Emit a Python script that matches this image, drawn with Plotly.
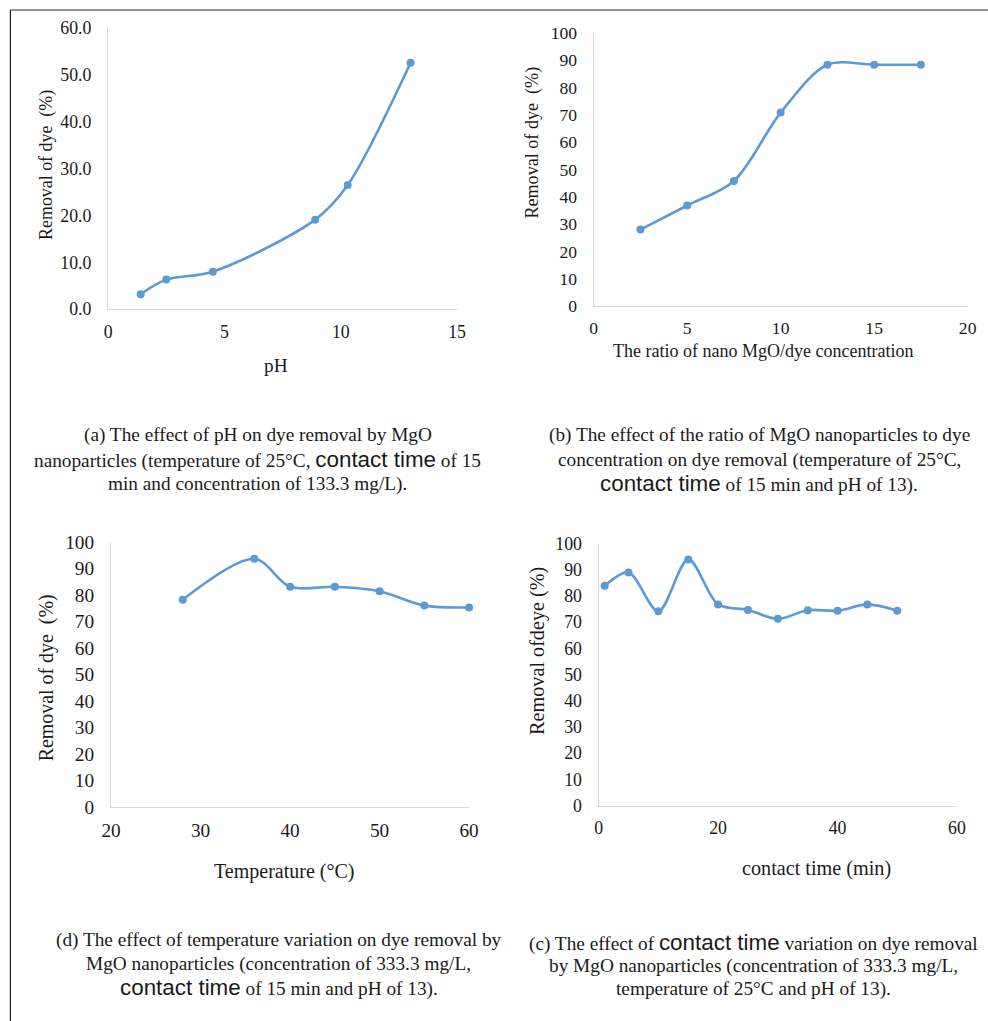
import plotly.graph_objects as go

# ---------------- data ----------------
ph_x = [1.4, 2.5, 4.5, 8.9, 10.3, 13.0]
ph_y = [3.2, 6.3, 8.0, 19.1, 26.5, 52.6]

ratio_x = [2.5, 5, 7.5, 10, 12.5, 15, 17.5]
ratio_y = [28.0, 36.8, 45.8, 70.8, 88.3, 88.3, 88.3]

temp_x = [28, 36, 40, 45, 50, 55, 60]
temp_y = [78.2, 93.7, 83.1, 83.1, 81.4, 76.0, 75.3]

time_x = [1, 5, 10, 15, 20, 25, 30, 35, 40, 45, 50]
time_y = [83.9, 89.0, 74.2, 94.0, 76.8, 74.7, 71.3, 74.6, 74.4, 76.8, 74.4]

W, H = 988, 1021
# capture pipeline shows the page slightly reduced and centred; compensate
S = 0.9826
BX, BY = 8.6, 8.9
BLUE = "#5B9BD5"
SERIF = "Liberation Serif, Times New Roman, serif"
SANS = "Liberation Sans, Arial, sans-serif"
TXT = "#1a1a1a"


def px(x):
    return ((x - BX) / S) / W


def py(y):
    return 1 - ((y - BY) / S) / H


def fs(v):
    return round(v / S, 1)


fig = go.Figure()

panels = [
    ("1", ph_x, ph_y, (107, 457), (27, 309), [0, 15], 5, [0, 60], 10, ".1f", 17.5),
    ("2", ratio_x, ratio_y, (594, 969), (31.7, 306), [0, 20], 5, [0, 100], 10, "d", 17.3),
    ("3", temp_x, temp_y, (110, 469), (542.7, 808.3), [20, 60], 10, [0, 100], 10, "d", 19),
    ("4", time_x, time_y, (599, 958.3), (544.3, 807), [0, 60], 20, [0, 100], 10, "d", 17.5),
]

layout = {}
for name, xd, yd, xdom, ydom, xr, xdt, yr, ydt, yfmt, tf in panels:
    xa = "x" if name == "1" else "x" + name
    ya = "y" if name == "1" else "y" + name
    fig.add_trace(go.Scatter(
        x=xd, y=yd, xaxis=xa, yaxis=ya, mode="lines+markers",
        line=dict(color=BLUE, width=2.6, shape="spline", smoothing=0.9),
        marker=dict(color=BLUE, size=8),
        cliponaxis=False, showlegend=False, hoverinfo="x+y",
    ))
    xk = "xaxis" if name == "1" else "xaxis" + name
    yk = "yaxis" if name == "1" else "yaxis" + name
    common = dict(showline=True, linecolor="#D9D9D9", linewidth=1.3, showgrid=False,
                  zeroline=False, ticks="", tickfont=dict(family=SERIF, size=fs(tf), color=TXT))
    layout[xk] = dict(domain=[px(xdom[0]), px(xdom[1])], range=xr, dtick=xdt, tick0=0,
                      anchor=ya, ticklabelstandoff=6, **common)
    layout[yk] = dict(domain=[py(ydom[1]), py(ydom[0])], range=yr, dtick=ydt, tick0=0,
                      tickformat=yfmt, anchor=xa, ticklabelstandoff=12, **common)

fig.update_layout(**layout)

annotations = []


def ann(text, x, y, size, angle=0):
    annotations.append(dict(text=text, x=px(x), y=py(y), xref="paper", yref="paper",
                            showarrow=False, textangle=angle, xanchor="center", yanchor="middle",
                            font=dict(family=SERIF, size=fs(size), color=TXT)))


# axis titles
ann("Removal of dye  (%)", 45, 164, 17.6, -90)
ann("pH", 275, 366, 19)
ann("Removal of dye  (%)", 533, 142, 17.8, -90)
ann("The ratio of nano MgO/dye concentration", 764, 351, 17.7)
ann("Removal of dye  (%)", 46, 679, 19.6, -90)
ann("Temperature (°C)", 283, 873, 19.7)
ann("Removal ofdeye (%)", 537, 652, 19.8, -90)
ann("contact time (min)", 817, 870, 19.8)

CT = '<span style="font-family:Liberation Sans, Arial, sans-serif;font-size:%.1fpx">contact time</span>' % fs(22)
caps = [
    (257, [435, 460, 484], ["(a) The effect of pH on dye removal by MgO",
                            "nanoparticles (temperature of 25°C, " + CT + " of 15",
                            "min and concentration of 133.3 mg/L)."]),
    (760, [435, 460, 484], ["(b) The effect of the ratio of MgO nanoparticles to dye",
                            "concentration on dye removal (temperature of 25°C,",
                            CT + " of 15 min and pH of 13)."]),
    (278, [942, 966, 990], ["(d) The effect of temperature variation on dye removal by",
                            "MgO nanoparticles (concentration of 333.3 mg/L,",
                            CT + " of 15 min and pH of 13)."]),
    (754, [944, 968, 991], ["(c) The effect of " + CT + " variation on dye removal",
                            "by MgO nanoparticles (concentration of 333.3 mg/L,",
                            "temperature of 25°C and pH of 13)."]),
]
for cx, ys, lines in caps:
    for yy, t in zip(ys, lines):
        ann(t, cx, yy, 19)

fig.update_layout(annotations=annotations)

# outer frame (top and left edges)
fig.add_shape(type="line", xref="paper", yref="paper", x0=px(9), x1=px(1000), y0=py(9), y1=py(9),
              line=dict(color="#707070", width=1.5))
fig.add_shape(type="line", xref="paper", yref="paper", x0=px(9), x1=px(9), y0=py(9), y1=py(1030),
              line=dict(color="#222222", width=1.2))

fig.update_layout(width=W, height=H, margin=dict(l=0, r=0, t=0, b=0),
                  paper_bgcolor="white", plot_bgcolor="white",
                  font=dict(family=SERIF, color=TXT))

fig.write_html(
    "out.html",
    config={"displayModeBar": False},
    post_script="document.documentElement.style.margin='0';document.body.style.margin='0';"
                "document.body.style.padding='0';document.body.style.overflow='hidden';"
                "document.documentElement.style.overflow='hidden';",
)
